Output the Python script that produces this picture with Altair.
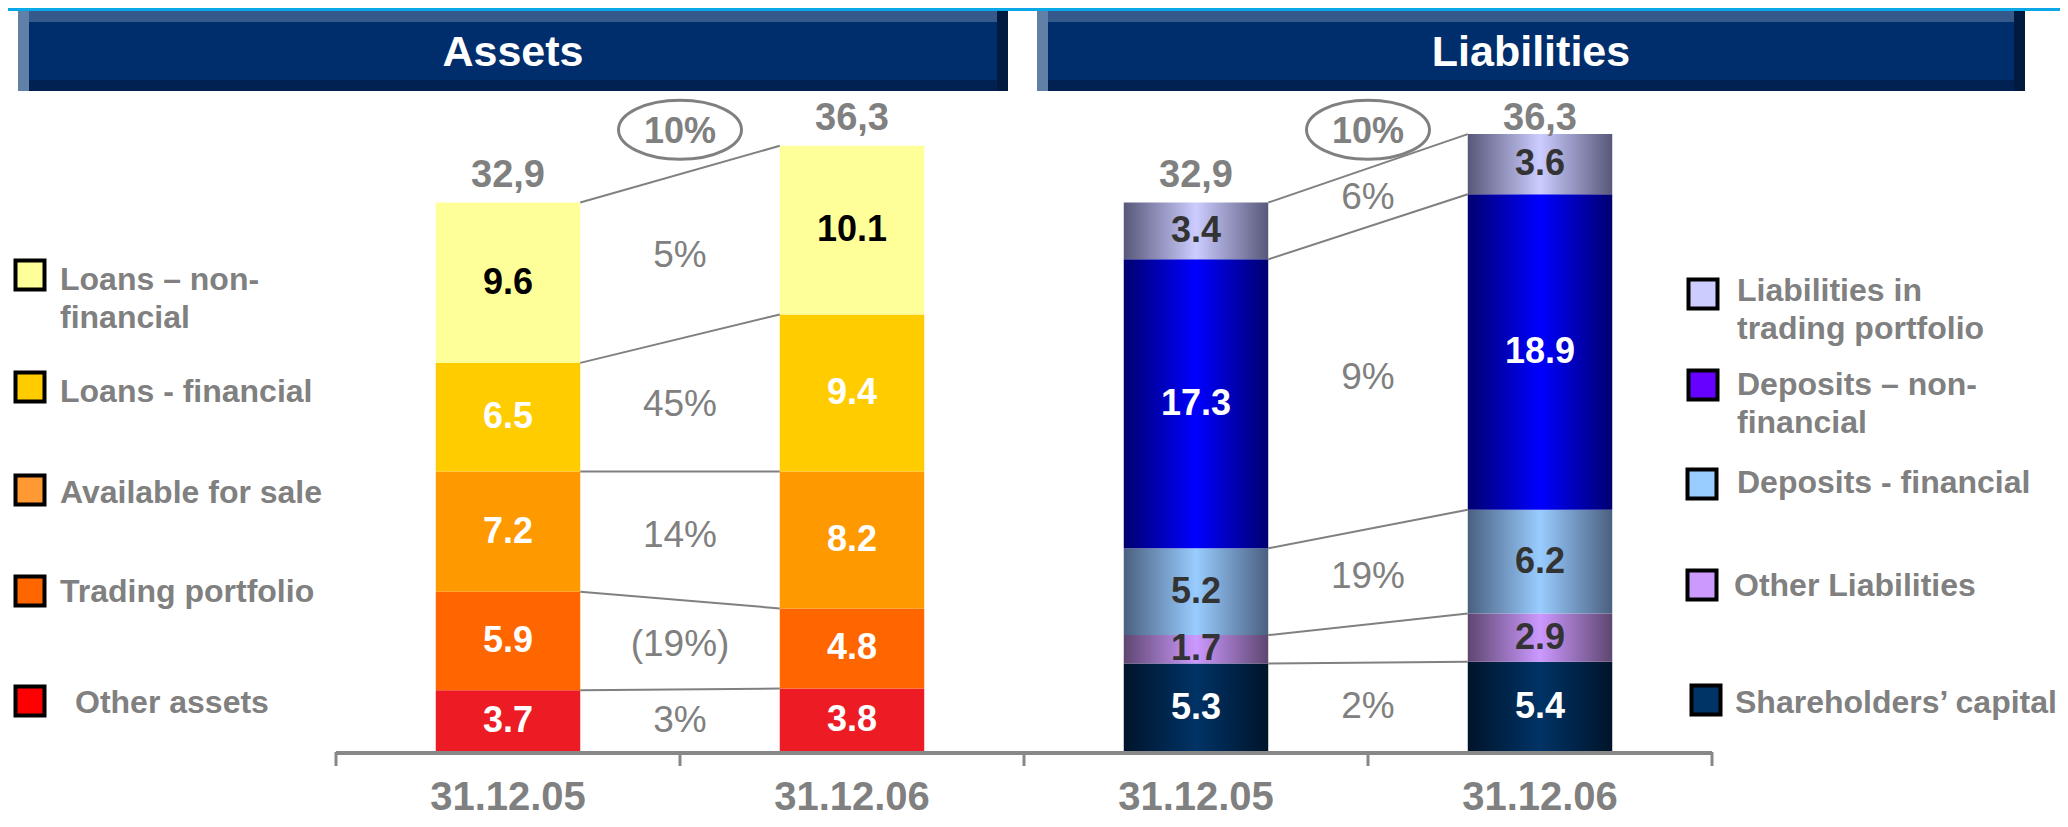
import altair as alt
import pandas as pd

# ---------------- data ----------------
periods = ["31.12.05", "31.12.06"]
panel_titles = ["Assets", "Liabilities"]

# stacks listed bottom -> top
asset_names = ["Other assets", "Trading portfolio", "Available for sale",
               "Loans - financial", "Loans – non-financial"]
asset_2005 = [3.7, 5.9, 7.2, 6.5, 9.6]
asset_2006 = [3.8, 4.8, 8.2, 9.4, 10.1]
asset_growth = ["3%", "(19%)", "14%", "45%", "5%"]

liab_names = ["Shareholders’ capital", "Other Liabilities", "Deposits - financial",
              "Deposits – non-financial", "Liabilities in trading portfolio"]
liab_2005 = [5.3, 1.7, 5.2, 17.3, 3.4]
liab_2006 = [5.4, 2.9, 6.2, 18.9, 3.6]
liab_growth = ["2%", "", "19%", "9%", "6%"]

total_values = [32.9, 36.3]
total_labels = ["32,9", "36,3"]
total_growth = "10%"

asset_legend_text = ["Other assets", "Trading portfolio", "Available for sale",
                     "Loans - financial", "Loans – non-\nfinancial"]
liab_legend_text = ["Shareholders’ capital", "Other Liabilities", " Deposits - financial",
                    "Deposits – non-\nfinancial", "Liabilities in\ntrading portfolio"]

# ---------------- styles ----------------
ASSET_FILL = ["#ed1c24", "#ff6600", "#ff9900", "#ffcc00", "#ffff99"]
ASSET_LEG_FILL = ["#ff0000", "#ff6600", "#ff9933", "#ffcc00", "#ffff99"]
ASSET_LABEL_COLOR = ["white", "white", "white", "white", "black"]
LIAB_GRAD = [("#00142a", "#003366"), ("#5e4670", "#cc99ff"), ("#4a6080", "#99ccff"),
             ("#000070", "#0000ff"), ("#58587a", "#ccccff")]
LIAB_LEG_FILL = ["#003366", "#cc99ff", "#99ccff", "#6600ff", "#ccccff"]
LIAB_LABEL_COLOR = ["white", "#333333", "#333333", "white", "#333333"]
GREY = "#808080"

# ---------------- layout ----------------
BAR_HALF = 0.21
PX_PER_UNIT = 16.7
PLOT_W, PLOT_H = 1376, 744
Y_MAX = PLOT_H / PX_PER_UNIT
PAD = {"left": 328, "right": 348, "top": 0, "bottom": 66}

ASSET_LEG_SQ = [(-306, 693), (-306, 583), (-306, 482), (-306, 379), (-306, 267)]
ASSET_LEG_TX = [(-261, 705), (-276, 594), (-276, 495), (-276, 394), (-276, 282)]
LIAB_LEG_SQ = [(1370, 692), (1366, 577), (1366, 476), (1367, 377), (1367, 286)]
LIAB_LEG_TX = [(1399, 705), (1398, 588), (1401, 485), (1401, 387), (1401, 293)]

HEADER_BOXES = [(-318, 672, 3, 83), (701, 1689, 3, 83)]

X_SCALE = alt.Scale(domain=[0, 4], nice=False, zero=False)
Y_SCALE = alt.Scale(domain=[0, Y_MAX], nice=False, zero=True)

# ---------------- tables ----------------
bar_rows, line_rows, pct_rows, tot_rows, ring_rows, axis_rows = [], [], [], [], [], []
series = [(asset_2005, asset_2006, asset_growth, ASSET_FILL, ASSET_LABEL_COLOR),
          (liab_2005, liab_2006, liab_growth, None, LIAB_LABEL_COLOR)]
for p, (v05, v06, growth, fills, lcols) in enumerate(series):
    cums = []
    for t, vals in enumerate([v05, v06]):
        base = 0.0
        cum = [0.0]
        xc = 2 * p + t + 0.5
        for k, v in enumerate(vals):
            bar_rows.append(dict(panel=p, period=t, k=k, value=v, y0=base, y1=base + v,
                                 ym=base + v / 2, xc=xc, xl=xc - BAR_HALF, xr=xc + BAR_HALF,
                                 label=f"{v:.1f}", lc=lcols[k],
                                 fill=fills[k] if fills else ""))
            base += v
            cum.append(base)
        cums.append(cum)
        tot_rows.append(dict(x=xc, y=total_values[t], label=total_labels[t]))
        axis_rows.append(dict(x=xc, label=periods[t]))
    c05, c06 = cums
    for k in range(1, 6):
        line_rows.append(dict(x=2 * p + 0.5 + BAR_HALF, x2=2 * p + 1.5 - BAR_HALF,
                              y=c05[k], y2=c06[k]))
    for k in range(5):
        if growth[k]:
            mid = (c05[k] + c05[k + 1] + c06[k] + c06[k + 1]) / 4
            pct_rows.append(dict(x=2 * p + 1, y=mid, label=growth[k]))
    ring_rows.append(dict(x=2 * p + 1, y=total_values[1], label=total_growth))

bars = pd.DataFrame(bar_rows)
lines = pd.DataFrame(line_rows)
pcts = pd.DataFrame(pct_rows)
tots = pd.DataFrame(tot_rows)
rings = pd.DataFrame(ring_rows)
axis_labels = pd.DataFrame(axis_rows)
ticks = pd.DataFrame({"x": list(range(2 * len(periods) + 1))})
domain = pd.DataFrame({"x": [ticks.x.min()], "x2": [ticks.x.max()]})

leg_rows = []
for names, fills, sq, tx in [(asset_legend_text, ASSET_LEG_FILL, ASSET_LEG_SQ, ASSET_LEG_TX),
                             (liab_legend_text, LIAB_LEG_FILL, LIAB_LEG_SQ, LIAB_LEG_TX)]:
    for i, name in enumerate(names):
        leg_rows.append(dict(label=name, fill=fills[i], sx=sq[i][0], sy=sq[i][1],
                             tx=tx[i][0], ty=tx[i][1]))
legend = pd.DataFrame(leg_rows)
asset_leg = legend.iloc[:5]
liab_leg = legend.iloc[5:]

hdr_rows = [dict(x=-328, x2=1724, y=0, y2=3, fill="#0aa8e6")]
hdr_text = []
for (x0, x1, y0, y1), title in zip(HEADER_BOXES, panel_titles):
    hdr_rows += [
        dict(x=x0, x2=x1, y=y0, y2=y1, fill="#002e6c"),
        dict(x=x0, x2=x1, y=y0, y2=y0 + 11, fill="#35598b"),
        dict(x=x0, x2=x1, y=y1 - 11, y2=y1, fill="#002152"),
        dict(x=x0, x2=x0 + 11, y=y0, y2=y1, fill="#6180a8"),
        dict(x=x1 - 11, x2=x1, y=y0, y2=y1, fill="#001a40"),
    ]
    hdr_text.append(dict(x=(x0 + x1) / 2, y=y0 + 55, label=title))
hdr = pd.DataFrame(hdr_rows)
hdrt = pd.DataFrame(hdr_text)

# ---------------- chart ----------------
def px(field):
    return alt.X(field, type="quantitative", scale=None, axis=None)

def py(field):
    return alt.Y(field, type="quantitative", scale=None, axis=None)

def qx(field):
    return alt.X(field, type="quantitative", scale=X_SCALE, axis=None)

def qy(field):
    return alt.Y(field, type="quantitative", scale=Y_SCALE, axis=None)

header_rects = alt.Chart(hdr).mark_rect().encode(
    x=px("x"), x2="x2", y=py("y"), y2="y2", fill=alt.Fill("fill:N", scale=None))
header_texts = alt.Chart(hdrt).mark_text(fontSize=43, fontWeight="bold", color="white",
                                          baseline="alphabetic").encode(
    x=px("x"), y=py("y"), text="label:N")

asset_bars = alt.Chart(bars[bars.panel == 0]).mark_bar().encode(
    x=qx("xl"), x2="xr", y=qy("y0"), y2="y1", fill=alt.Fill("fill:N", scale=None))

liab_layers = []
for k, (dark, light) in enumerate(LIAB_GRAD):
    g = alt.LinearGradient(gradient="linear", x1=0, x2=1, y1=0, y2=0,
                           stops=[alt.GradientStop(color=dark, offset=0),
                                  alt.GradientStop(color=light, offset=0.5),
                                  alt.GradientStop(color=dark, offset=1)])
    liab_layers.append(
        alt.Chart(bars[(bars.panel == 1) & (bars.k == k)]).mark_bar(color=g).encode(
            x=qx("xl"), x2="xr", y=qy("y0"), y2="y1"))

axis_line = alt.Chart(domain).mark_rule(color="#888888", strokeWidth=4).encode(
    x=qx("x"), x2="x2", y=alt.value(PLOT_H + 1))
tick_rules = alt.Chart(ticks).mark_rule(color="#888888", strokeWidth=3).encode(
    x=qx("x"), y=alt.value(PLOT_H), y2=alt.value(PLOT_H + 14))
axis_text = alt.Chart(axis_labels).mark_text(fontSize=40, fontWeight="bold", color=GREY,
                                             baseline="alphabetic").encode(
    x=qx("x"), y=alt.value(PLOT_H + 58), text="label:N")

conn = alt.Chart(lines).mark_rule(color=GREY, strokeWidth=2).encode(
    x=qx("x"), x2="x2", y=qy("y"), y2="y2")

value_labels = alt.Chart(bars).mark_text(fontSize=36, fontWeight="bold").encode(
    x=qx("xc"), y=qy("ym"), text="label:N", color=alt.Color("lc:N", scale=None))

pct_labels = alt.Chart(pcts).mark_text(fontSize=37, color=GREY).encode(
    x=qx("x"), y=qy("y"), text="label:N")

tot_labels = alt.Chart(tots).mark_text(fontSize=38, fontWeight="bold", color=GREY,
                                       baseline="alphabetic", dy=-16).encode(
    x=qx("x"), y=qy("y"), text="label:N")

ELLIPSE = "M-1,0 A1,0.48 0 1,1 1,0 A1,0.48 0 1,1 -1,0 Z"
ring = alt.Chart(rings).mark_point(shape=ELLIPSE, size=123 * 123, filled=False,
                                   color=GREY, strokeWidth=3, yOffset=-16, opacity=1).encode(
    x=qx("x"), y=qy("y"))
ring_text = alt.Chart(rings).mark_text(fontSize=36, fontWeight="bold", color=GREY,
                                       baseline="middle", dy=-14).encode(
    x=qx("x"), y=qy("y"), text="label:N")

def legend_layers(df, fsize):
    sq = alt.Chart(df).mark_square(size=29 * 29, filled=True, stroke="black",
                                   strokeWidth=4, opacity=1).encode(
        x=px("sx"), y=py("sy"), fill=alt.Fill("fill:N", scale=None))
    tx = alt.Chart(df).mark_text(align="left", baseline="alphabetic", fontSize=fsize,
                                 fontWeight="bold", color=GREY, lineBreak="\n",
                                 lineHeight=38).encode(
        x=px("tx"), y=py("ty"), text="label:N")
    return [sq, tx]

chart = alt.layer(
    asset_bars, *liab_layers, header_rects, header_texts, axis_line, tick_rules, axis_text,
    conn, value_labels, pct_labels, tot_labels, ring, ring_text,
    *legend_layers(asset_leg, 32), *legend_layers(liab_leg, 32),
).properties(
    width=PLOT_W, height=PLOT_H, padding=PAD,
    autosize=alt.AutoSizeParams(type="none"),
).configure(font="Liberation Sans").configure_view(
    strokeWidth=0, stroke="transparent"
).configure_axis(grid=False, domain=False, ticks=False, labels=False)

chart.save("out.html", embed_options={"renderer": "svg", "actions": False})
